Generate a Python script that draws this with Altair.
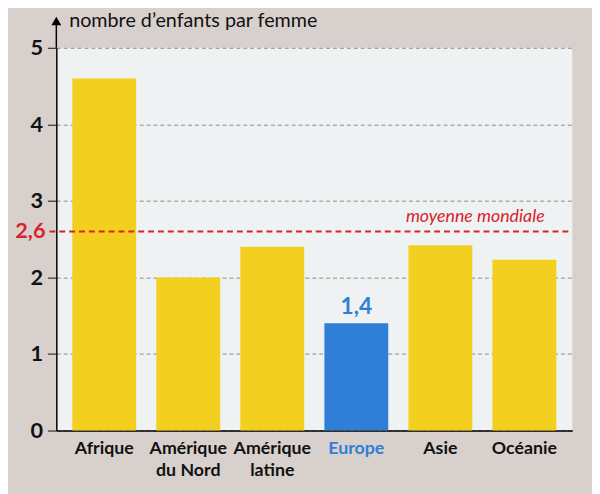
import altair as alt
import pandas as pd

categories = ["Afrique", "Amérique\ndu Nord", "Amérique\nlatine", "Europe", "Asie", "Océanie"]
values = [4.6, 2.0, 2.4, 1.4, 2.42, 2.23]
highlight = [False, False, False, True, False, False]
y_ticks = [0, 1, 2, 3, 4, 5]
world_mean = 2.6
world_mean_label = "2,6"
europe_label = "1,4"
axis_title = "nombre d\u2019enfants par femme"
mean_title = "moyenne mondiale"

YELLOW = "#f3cf20"
BLUE = "#2f7fd8"
RED = "#d9232c"
FONT = "Lato"

df = pd.DataFrame({"cat": categories, "val": values, "hl": highlight})

W, H = 523, 388

xscale = alt.Scale(domain=categories, paddingInner=0.24, paddingOuter=0.19)
yscale = alt.Scale(domain=[0, 5], nice=False, zero=True)

bars = alt.Chart(df).mark_bar().encode(
    x=alt.X("cat:N", scale=xscale, sort=categories, title=None,
            axis=alt.Axis(labelAngle=0, labelFont=FONT, labelFontSize=18,
                          labelFontWeight="bold", labelPadding=9, ticks=False,
                          domainColor="black", domainWidth=1.5,
                          labelExpr="split(datum.label, '\\n')",
                          labelLineHeight=23, labelBaseline="top",
                          labelColor=alt.condition("datum.value == 'Europe'",
                                                   alt.value(BLUE), alt.value("#111111")))),
    y=alt.Y("val:Q", scale=yscale, title=None,
            axis=alt.Axis(values=y_ticks, format="d", grid=True, gridDash=[4, 3],
                          gridColor="#8a8a8a", gridWidth=1, labelFont=FONT, labelFontSize=22,
                          labelFontWeight="bold", labelColor="#111111", tickSize=9,
                          tickColor="#111111", labelPadding=5, domainColor="black",
                          domainWidth=1.5)),
    color=alt.Color("hl:N", scale=alt.Scale(domain=[False, True], range=[YELLOW, BLUE]),
                    legend=None),
)

eu_df = df[df["hl"]].assign(lbl=europe_label)
eu_text = alt.Chart(eu_df).mark_text(font=FONT, fontSize=23, fontWeight="bold",
                                     color=BLUE, baseline="bottom", dy=-5).encode(
    x=alt.X("cat:N", scale=xscale, sort=categories),
    y=alt.Y("val:Q", scale=yscale),
    text="lbl:N",
)

mean_df = pd.DataFrame({"m": [world_mean], "lbl": [world_mean_label], "t": [mean_title]})
mean_rule = alt.Chart(mean_df).mark_rule(color=RED, strokeDash=[6, 4], strokeWidth=2).encode(
    y=alt.Y("m:Q", scale=yscale), x=alt.value(-7), x2=alt.value(W)
)
mean_lbl = alt.Chart(mean_df).mark_text(font=FONT, fontSize=22, fontWeight="bold",
                                        color=RED, align="right", baseline="middle").encode(
    y=alt.Y("m:Q", scale=yscale), x=alt.value(-11), text="lbl:N"
)
mean_title_txt = alt.Chart(mean_df).mark_text(font=FONT, fontSize=18, fontStyle="italic",
                                              color=RED, align="right", baseline="bottom",
                                              dy=-6).encode(
    y=alt.Y("m:Q", scale=yscale), x=alt.value(W - 28), text="t:N"
)

arrow_df = pd.DataFrame({"y0": [5.0], "y1": [5.3], "ya": [5.35], "t": [axis_title]})
axis_ext = alt.Chart(arrow_df).mark_rule(color="black", strokeWidth=1.5).encode(
    x=alt.value(0), y=alt.Y("y0:Q", scale=yscale), y2="y1:Q"
)
arrow = alt.Chart(arrow_df).mark_point(shape="triangle-up", filled=True, color="black",
                                       size=100, opacity=1).encode(
    x=alt.value(0), y=alt.Y("ya:Q", scale=yscale)
)
title_txt = alt.Chart(arrow_df).mark_text(font=FONT, fontSize=20, color="#111111",
                                          align="left", baseline="middle").encode(
    x=alt.value(13), y=alt.Y("ya:Q", scale=yscale), text="t:N"
)

chart = alt.layer(bars, eu_text, mean_rule, mean_lbl, mean_title_txt, axis_ext, arrow,
                  title_txt).properties(
    width=W, height=H,
    autosize=alt.AutoSizeParams(type="none"),
    padding={"left": 49, "top": 37, "right": 20, "bottom": 61},
    background="#d8d0cc",
).configure_view(fill="#eef2f3", stroke=None, clip=False)

chart.save("out.html", embed_options={"renderer": "svg", "actions": False})
